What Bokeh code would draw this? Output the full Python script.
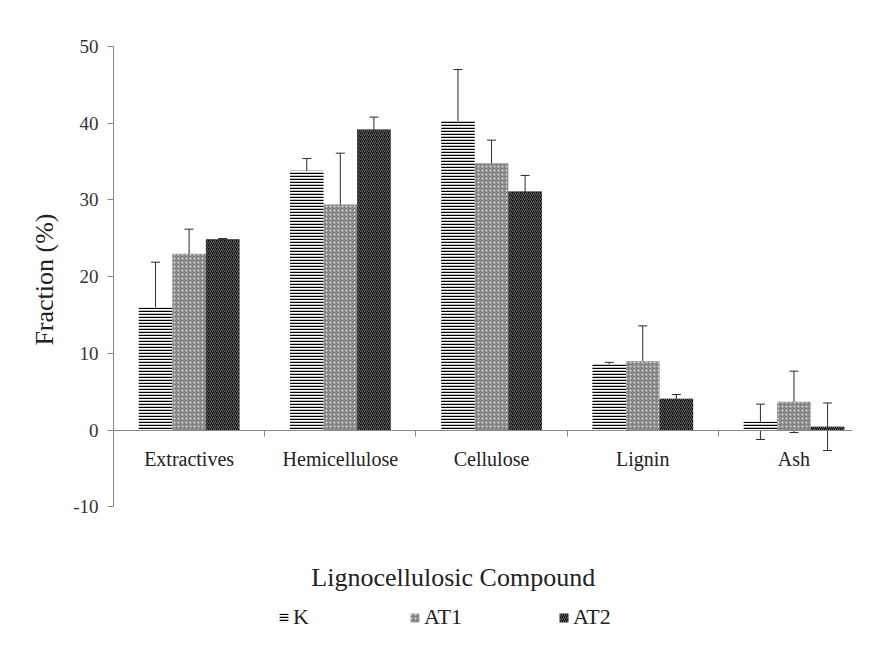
from bokeh.plotting import figure
from bokeh.models import (ColumnDataSource, Range1d, LinearAxis, FixedTicker, Whisker, TeeHead,
                          Legend, LegendItem, Label, Title)
from bokeh.embed import file_html
from bokeh.resources import INLINE

categories = ["Extractives", "Hemicellulose", "Cellulose", "Lignin", "Ash"]
series = ["K", "AT1", "AT2"]
k_values = [16.0, 33.8, 40.3, 8.6, 1.1]
k_errors = [5.9, 1.6, 6.7, 0.25, 2.3]
at1_values = [23.0, 29.4, 34.8, 9.0, 3.7]
at1_errors = [3.2, 6.7, 3.0, 4.6, 4.0]
at2_values = [24.9, 39.2, 31.1, 4.1, 0.45]
at2_errors = [0.08, 1.6, 2.1, 0.55, 3.1]
y_ticks = [-10, 0, 10, 20, 30, 40, 50]
y_title = "Fraction (%)"
x_title = "Lignocellulosic  Compound"

FONT = "Liberation Serif"
bar_w = 0.222
offsets = [-bar_w, 0.0, bar_w]
styles = [
    dict(fill_color="white", hatch_pattern="horizontal_line", hatch_color="black",
         hatch_scale=3, hatch_weight=1.5),
    dict(fill_color="#858585", hatch_pattern="dot", hatch_color="#dddddd",
         hatch_scale=4, hatch_weight=1.0),
    dict(fill_color="#101010", hatch_pattern="right_diagonal_line", hatch_color="#686868",
         hatch_scale=4, hatch_weight=1.0),
]

p = figure(width=881, height=660, output_backend="svg", toolbar_location=None,
           x_range=Range1d(-0.5, 4.387), y_range=Range1d(-28.7, 50),
           x_axis_type=None, min_border_left=113, min_border_right=29,
           min_border_top=46, min_border_bottom=10)
p.outline_line_color = None
p.grid.visible = False
p.background_fill_color = "white"

# y axis (line limited to the tick range)
ya = p.yaxis[0]
ya.bounds = (min(y_ticks), max(y_ticks))
ya.ticker = FixedTicker(ticks=y_ticks)
ya.major_label_overrides = {v: str(v) for v in y_ticks}
ya.axis_line_color = "#888888"
ya.major_tick_line_color = "#888888"
ya.minor_tick_line_color = None
ya.major_tick_out = 6
ya.major_tick_in = 0
ya.major_label_standoff = 9
ya.major_label_text_font = FONT
ya.major_label_text_font_size = "19px"
ya.major_label_text_color = "#333333"

# y axis title, aligned to the top of the panel so it centres on the -10..50 span
p.add_layout(Title(text=y_title, align="right", offset=167, standoff=23,
                   text_font=FONT, text_font_size="26px", text_font_style="normal",
                   text_color="#222222"), "left")

idx = list(range(len(categories)))
all_vals = [k_values, at1_values, at2_values]
all_errs = [k_errors, at1_errors, at2_errors]
renderers = []
for name, vals, errs, off, st in zip(series, all_vals, all_errs, offsets, styles):
    xs = [i + off for i in idx]
    src = ColumnDataSource(dict(x=xs, top=vals,
                                upper=[v + e for v, e in zip(vals, errs)],
                                lower=[v - e for v, e in zip(vals, errs)]))
    r = p.vbar(x="x", top="top", bottom=0, width=bar_w, source=src,
               line_color=None, **st)
    renderers.append(r)
    w = Whisker(source=src, base="x", upper="upper", lower="lower",
                line_color="#2a2a2a", line_width=1,
                upper_head=TeeHead(size=9, line_color="#2a2a2a", line_width=1),
                lower_head=TeeHead(size=9, line_color="#2a2a2a", line_width=1))
    p.add_layout(w)

# x axis at zero: tick marks at category boundaries
bounds = [i + 0.5 for i in idx[:-1]]
xa_ticks = LinearAxis(fixed_location=0,
                      ticker=FixedTicker(ticks=bounds),
                      major_label_overrides={b: " " for b in bounds},
                      major_label_text_font=FONT, major_label_text_font_size="19px",
                      axis_line_color="#888888", major_tick_line_color="#888888",
                      minor_tick_line_color=None, major_tick_out=6, major_tick_in=0)
p.add_layout(xa_ticks, "below")
# category labels
xa_labels = LinearAxis(fixed_location=0, ticker=FixedTicker(ticks=idx),
                       major_label_overrides={i: c for i, c in zip(idx, categories)},
                       axis_line_color=None, major_tick_line_color=None,
                       minor_tick_line_color=None, major_label_standoff=12,
                       major_label_text_font=FONT, major_label_text_font_size="20px",
                       major_label_text_color="#222222")
p.add_layout(xa_labels, "below")

# x axis title (screen units relative to the plot frame)
p.add_layout(Label(x=343, y=73, x_units="screen", y_units="screen", text=x_title,
                   text_align="center", text_baseline="middle",
                   text_font=FONT, text_font_size="26px", text_color="#222222"))

legend = Legend(items=[LegendItem(label=s, renderers=[r]) for s, r in zip(series, renderers)],
                orientation="horizontal", location=(165, 20),
                glyph_width=11, glyph_height=11, label_standoff=4, spacing=96,
                padding=0, margin=0, border_line_color=None, background_fill_alpha=0,
                label_text_font=FONT, label_text_font_size="22px",
                label_text_color="#222222")
p.add_layout(legend)

open("out.html", "w").write(file_html(p, INLINE))
